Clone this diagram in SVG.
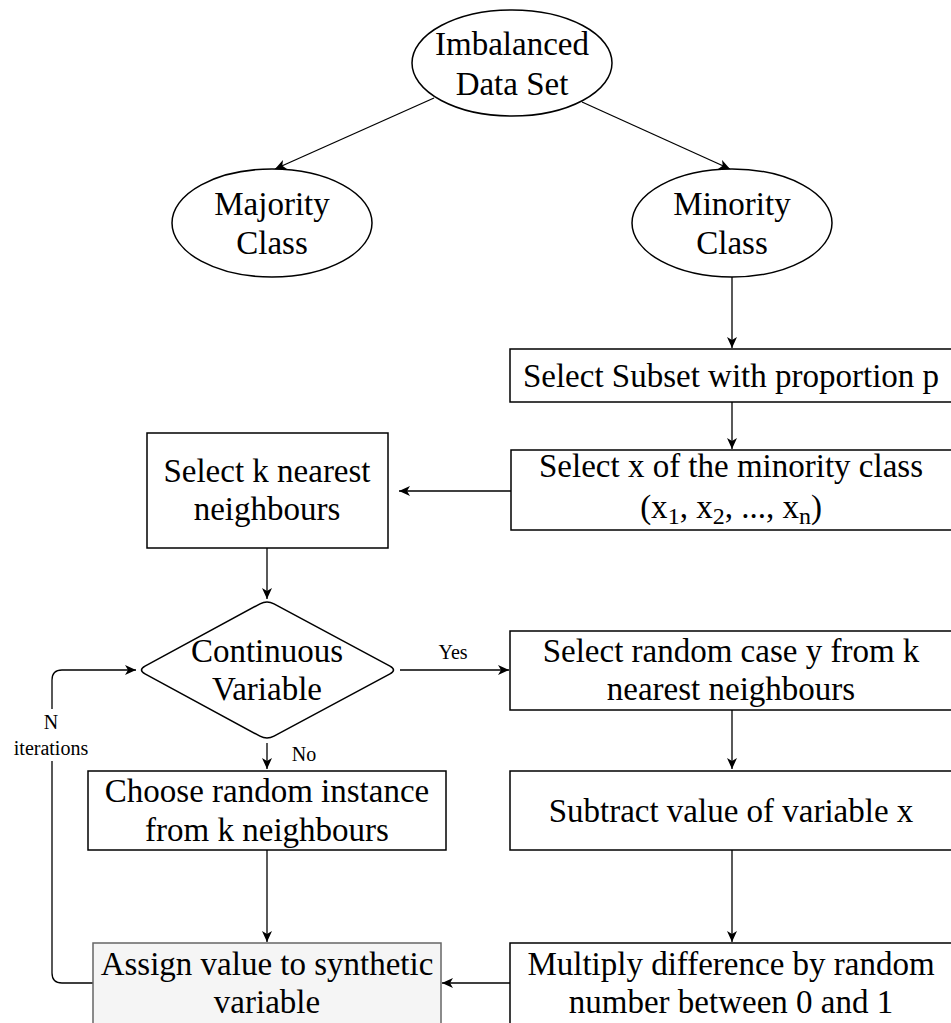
<svg xmlns="http://www.w3.org/2000/svg" width="951" height="1023" viewBox="0 0 951 1023">
<style>
.n{fill:#fff;stroke:#000;stroke-width:1.5}
.g{fill:#f5f5f5;stroke:#666;stroke-width:1.5}
.t{font-family:"Liberation Serif","Times New Roman",serif;font-size:33px;fill:#000;text-anchor:middle}
.s{font-family:"Liberation Serif","Times New Roman",serif;font-size:20px;fill:#000;text-anchor:middle}
.c{fill:none;stroke:#000;stroke-width:1.3}
</style>
<defs>
<marker id="a" markerUnits="userSpaceOnUse" markerWidth="12" markerHeight="10" refX="11" refY="5" orient="auto">
<path d="M0,0 L11,5 L0,10 L3,5 Z" fill="#000"/>
</marker>
</defs>
<rect width="951" height="1023" fill="#fff"/>
<g id="connectors">
<path class="c" d="M434,98 L275,169" marker-end="url(#a)"/>
<path class="c" d="M582,102 L730,169" marker-end="url(#a)"/>
<path class="c" d="M732,277 L732,348" marker-end="url(#a)"/>
<path class="c" d="M732,402 L732,449" marker-end="url(#a)"/>
<path class="c" d="M511,491 L399,491" marker-end="url(#a)"/>
<path class="c" d="M267,548 L267,599" marker-end="url(#a)"/>
<path class="c" d="M400,670 L509,670" marker-end="url(#a)"/>
<path class="c" d="M267,743 L267,769" marker-end="url(#a)"/>
<path class="c" d="M93,983 L62,983 Q52,983 52,973 L52,680 Q52,670 62,670 L136,670" marker-end="url(#a)"/>
<path class="c" d="M267,850 L267,942" marker-end="url(#a)"/>
<path class="c" d="M732,710 L732,769" marker-end="url(#a)"/>
<path class="c" d="M732,850 L732,942" marker-end="url(#a)"/>
<path class="c" d="M510,983 L442,983" marker-end="url(#a)"/>
<text class="s" x="453" y="659">Yes</text>
<text class="s" x="304" y="761">No</text>
<rect x="10" y="709" width="82" height="52" fill="#fff"/>
<text class="s" x="51" y="729">N</text>
<text class="s" x="51" y="755">iterations</text>
</g>
<g id="imbalanced">
<ellipse class="n" cx="512" cy="63" rx="100" ry="53"/>
<text class="t" x="512" y="55">Imbalanced</text>
<text class="t" x="512" y="95">Data Set</text>
</g>
<g id="majority">
<ellipse class="n" cx="272" cy="223" rx="100" ry="54"/>
<text class="t" x="272" y="215">Majority</text>
<text class="t" x="272" y="254">Class</text>
</g>
<g id="minority">
<ellipse class="n" cx="732" cy="223" rx="100" ry="54"/>
<text class="t" x="732" y="215">Minority</text>
<text class="t" x="732" y="254">Class</text>
</g>
<g id="subset">
<rect class="n" x="510" y="349" width="443" height="53"/>
<text class="t" x="731" y="387">Select Subset with proportion p</text>
</g>
<g id="selectx">
<rect class="n" x="511" y="450" width="442" height="80"/>
<text class="t" x="731" y="477">Select x of the minority class</text>
<text class="t" x="731" y="518">(x<tspan font-size="24" dy="6">1</tspan><tspan dy="-6">, x</tspan><tspan font-size="24" dy="6">2</tspan><tspan dy="-6">, ..., x</tspan><tspan font-size="24" dy="6">n</tspan><tspan dy="-6">)</tspan></text>
</g>
<g id="knearest">
<rect class="n" x="147" y="433" width="241" height="115"/>
<text class="t" x="267" y="482">Select k nearest</text>
<text class="t" x="267" y="520">neighbours</text>
</g>
<g id="continuous">
<path class="n" d="M145,666.2 L260,603.8 Q267,600 274,603.8 L390,666.2 Q397,670 390,673.8 L274,736.2 Q267,740 260,736.2 L145,673.8 Q138,670 145,666.2 Z"/>
<text class="t" x="267" y="662">Continuous</text>
<text class="t" x="267" y="700">Variable</text>
</g>
<g id="randomcase">
<rect class="n" x="510" y="631" width="443" height="79"/>
<text class="t" x="731" y="662">Select random case y from k</text>
<text class="t" x="731" y="700">nearest neighbours</text>
</g>
<g id="choose">
<rect class="n" x="88" y="771" width="358" height="79"/>
<text class="t" x="267" y="802">Choose random instance</text>
<text class="t" x="267" y="841">from k neighbours</text>
</g>
<g id="subtract">
<rect class="n" x="510" y="771" width="443" height="79"/>
<text class="t" x="731" y="822">Subtract value of variable x</text>
</g>
<g id="assign">
<rect class="g" x="93" y="943" width="348" height="90"/>
<text class="t" x="267" y="975">Assign value to synthetic</text>
<text class="t" x="267" y="1013">variable</text>
</g>
<g id="multiply">
<rect class="n" x="510" y="943" width="443" height="90"/>
<text class="t" x="731" y="975">Multiply difference by random</text>
<text class="t" x="731" y="1013">number between 0 and 1</text>
</g>
</svg>
